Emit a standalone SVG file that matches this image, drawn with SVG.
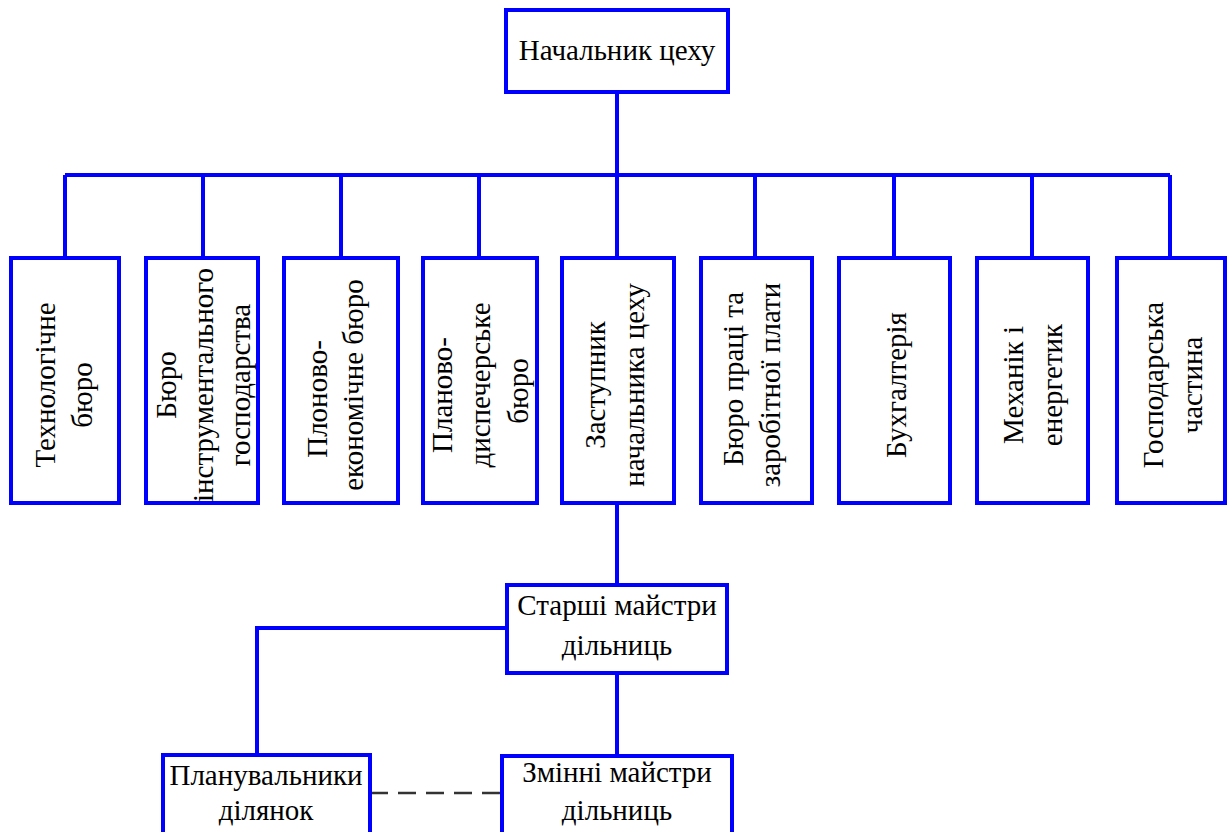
<svg xmlns="http://www.w3.org/2000/svg" width="1228" height="832" viewBox="0 0 1228 832">
<style>
.box{fill:#fff;stroke:#0000ff;stroke-width:4}
.ln{fill:none;stroke:#0000ff;stroke-width:4}
.dash{fill:none;stroke:#333;stroke-width:2.5;stroke-dasharray:18 10}
.t{font-family:'Liberation Serif','DejaVu Serif',serif;font-size:29px;fill:#000;text-anchor:middle}
</style>
<rect width="1228" height="832" fill="#fff"/>
<g id="connectors">
<path class="ln" d="M617 92V175M65 175H1170M65 175V258M203 175V258M341 175V258M479 175V258M617 175V258M755 175V258M894 175V258M1032 175V258M1170 175V258"/>
<path class="ln" d="M617 503V585M507 628H257V755M617 673V756"/>
<path class="dash" d="M370 793H502"/>
</g>
<g id="n-head"><rect class="box" x="506" y="10" width="222" height="82"/><text class="t" font-family="Liberation Serif, serif" x="617" y="60">Начальник цеху</text></g>
<g id="n1"><rect class="box" x="11" y="258" width="108" height="245"/><text class="t" transform="translate(55,385) rotate(-90)"><tspan x="0">Технологічне</tspan><tspan x="-10" dy="37">бюро</tspan></text></g>
<g id="n2"><rect class="box" x="146" y="258" width="112" height="245"/><text class="t" transform="translate(176,385) rotate(-90)"><tspan x="0">Бюро</tspan><tspan x="0" dy="37">інструментального</tspan><tspan x="0" dy="37">господарства</tspan></text></g>
<g id="n3"><rect class="box" x="284" y="258" width="114" height="245"/><text class="t" transform="translate(327,385) rotate(-90)"><tspan x="-14">Плоново-</tspan><tspan x="0" dy="36">економічне бюро</tspan></text></g>
<g id="n4"><rect class="box" x="423" y="258" width="114" height="245"/><text class="t" transform="translate(452,385) rotate(-90)"><tspan x="-10">Планово-</tspan><tspan x="0" dy="38">диспечерське</tspan><tspan x="-6" dy="38">бюро</tspan></text></g>
<g id="n5"><rect class="box" x="562" y="258" width="112" height="245"/><text class="t" transform="translate(605,385) rotate(-90)"><tspan x="0">Заступник</tspan><tspan x="0" dy="39">начальника цеху</tspan></text></g>
<g id="n6"><rect class="box" x="701" y="258" width="111" height="245"/><text class="t" transform="translate(743,385) rotate(-90)"><tspan x="6">Бюро праці та</tspan><tspan x="0" dy="37">заробітної плати</tspan></text></g>
<g id="n7"><rect class="box" x="839" y="258" width="111" height="245"/><text class="t" transform="translate(906,385) rotate(-90)"><tspan x="0">Бухгалтерія</tspan></text></g>
<g id="n8"><rect class="box" x="977" y="258" width="111" height="245"/><text class="t" transform="translate(1023,385) rotate(-90)"><tspan x="0">Механік і</tspan><tspan x="0" dy="39">енергетик</tspan></text></g>
<g id="n9"><rect class="box" x="1117" y="258" width="108" height="245"/><text class="t" transform="translate(1163,385) rotate(-90)"><tspan x="0">Господарська</tspan><tspan x="0" dy="39">частина</tspan></text></g>
<g id="n-senior"><rect class="box" x="507" y="585" width="220" height="88"/><text class="t" x="617" y="615">Старші майстри</text><text class="t" x="617" y="655">дільниць</text></g>
<g id="n-planners"><rect class="box" x="163" y="755" width="207" height="90"/><text class="t" x="266" y="785">Планувальники</text><text class="t" x="266" y="820">ділянок</text></g>
<g id="n-shift"><rect class="box" x="502" y="756" width="230" height="90"/><text class="t" x="617" y="782">Змінні майстри</text><text class="t" x="617" y="820">дільниць</text></g>
</svg>
